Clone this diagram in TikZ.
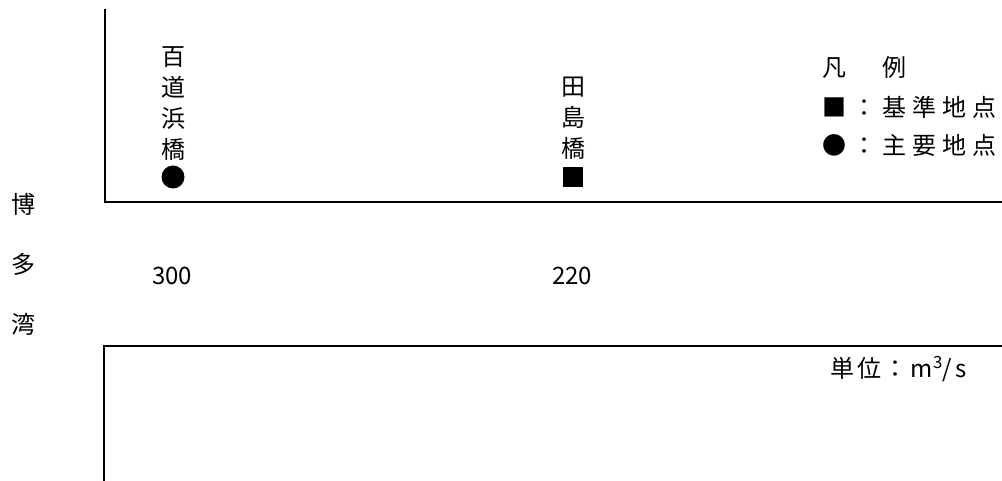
\documentclass[tikz,border=0pt]{standalone}
\usepackage{fontspec}
\setmainfont{Noto Sans CJK JP}
\begin{document}
\begin{tikzpicture}[x=1pt,y=-1pt,
  river/.style={line width=2pt, line cap=rect},
  jp/.style={inner sep=0pt, font=\fontsize{24}{31}\selectfont},
  vlabel/.style={jp, align=center},
  legendtext/.style={jp, anchor=west, font=\fontsize{24}{31}\selectfont\addfontfeature{LetterSpace=25}},
  mainpt/.style={circle, fill=black, minimum size=23pt, inner sep=0pt},
  basept/.style={rectangle, fill=black, minimum size=20pt, inner sep=0pt}]
\useasboundingbox (0,0) rectangle (1002,481);
% river banks
\coordinate (ut) at (105,10);
\coordinate (uc) at (105,202);
\coordinate (ur) at (1003,202);
\draw[river] (ut) -- (uc) -- (ur);
\coordinate (lr) at (1003,346);
\coordinate (lc) at (104,346);
\coordinate (lb) at (104,482);
\draw[river] (lr) -- (lc) -- (lb);
% points
\node[mainpt] (p1) at (173,177) {};
\node[basept] (p2) at (573,177) {};
\node[vlabel] (n1) at (173,103.5) {百\\道\\浜\\橋};
\node[vlabel] (n2) at (573,118) {田\\島\\橋};
% discharges
\node[jp] (q1) at (172,276) {300};
\node[jp] (q2) at (572,276) {220};
% bay
\node[vlabel, font=\fontsize{24}{60}\selectfont] (bay) at (23,264) {博\\多\\湾};
% legend
\node[legendtext] (lg0) at (822,67) {凡　例};
\node[legendtext] (lg1) at (822,107) {■：基準地点};
\node[legendtext] (lg2) at (822,145) {●：主要地点};
% unit
\node[jp, anchor=west, font=\fontsize{24}{31}\selectfont\addfontfeature{LetterSpace=12}] (unit) at (830,369) {単位：m\textsuperscript{3}/s};
\end{tikzpicture}
\end{document}
